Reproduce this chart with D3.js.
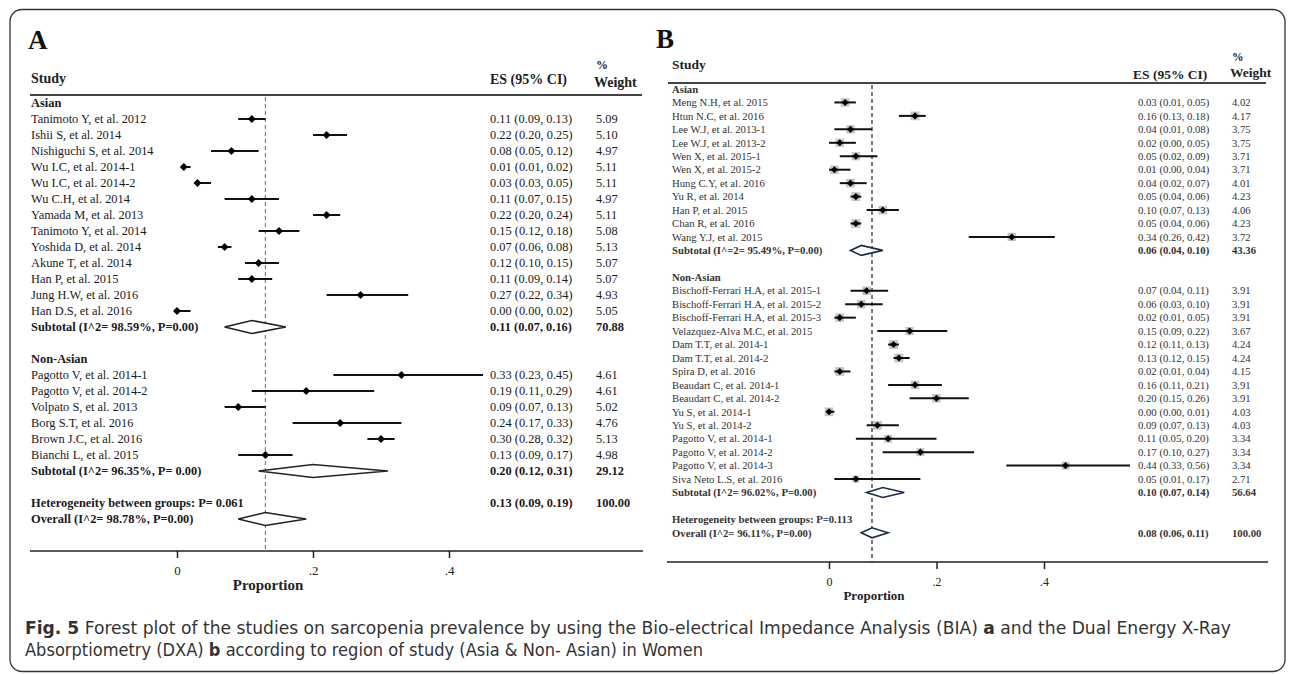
<!DOCTYPE html>
<html>
<head>
<meta charset="utf-8">
<script src="https://cdn.jsdelivr.net/npm/d3@7/dist/d3.min.js"></script>
<style>
body { margin: 0; background: #fff; }
text.serif { font-family: "Liberation Serif", "Times New Roman", serif; }
</style>
</head>
<body>
<script>
// ---- panel A (BIA) ----
var asianA = ["Tanimoto Y, et al. 2012", "Ishii S, et al. 2014", "Nishiguchi S, et al. 2014", "Wu I.C, et al. 2014-1",
  "Wu I.C, et al. 2014-2", "Wu C.H, et al. 2014", "Yamada M, et al. 2013", "Tanimoto Y, et al. 2014",
  "Yoshida D, et al. 2014", "Akune T, et al. 2014", "Han P, et al. 2015", "Jung H.W, et al. 2016", "Han D.S, et al. 2016"]
var asianA_es = [0.11, 0.22, 0.08, 0.01, 0.03, 0.11, 0.22, 0.15, 0.07, 0.12, 0.11, 0.27, 0.00]
var asianA_lo = [0.09, 0.20, 0.05, 0.01, 0.03, 0.07, 0.20, 0.12, 0.06, 0.10, 0.09, 0.22, 0.00]
var asianA_hi = [0.13, 0.25, 0.12, 0.02, 0.05, 0.15, 0.24, 0.18, 0.08, 0.15, 0.14, 0.34, 0.02]
var asianA_wt = [5.09, 5.10, 4.97, 5.11, 5.11, 4.97, 5.11, 5.08, 5.13, 5.07, 5.07, 4.93, 5.05]

var nonAsianA = ["Pagotto V, et al. 2014-1", "Pagotto V, et al. 2014-2", "Volpato S, et al. 2013",
  "Borg S.T, et al. 2016", "Brown J.C, et al. 2016", "Bianchi L, et al. 2015"]
var nonAsianA_es = [0.33, 0.19, 0.09, 0.24, 0.30, 0.13]
var nonAsianA_lo = [0.23, 0.11, 0.07, 0.17, 0.28, 0.09]
var nonAsianA_hi = [0.45, 0.29, 0.13, 0.33, 0.32, 0.17]
var nonAsianA_wt = [4.61, 4.61, 5.02, 4.76, 5.13, 4.98]

var subLabelsA = ["Subtotal (I^2= 98.59%, P=0.00)", "Subtotal (I^2= 96.35%, P= 0.00)"]
var subA = [[0.11, 0.07, 0.16, 70.88], [0.20, 0.12, 0.31, 29.12]]
var hetA = "Heterogeneity between groups: P= 0.061"
var overallLabelA = "Overall (I^2= 98.78%, P=0.00)"
var overallA = [0.13, 0.09, 0.19, 100.00]

// ---- panel B (DXA) ----
var asianB = ["Meng N.H, et al. 2015", "Htun N.C, et al. 2016", "Lee W.J, et al. 2013-1", "Lee W.J, et al. 2013-2",
  "Wen X, et al. 2015-1", "Wen X, et al. 2015-2", "Hung C.Y, et al. 2016", "Yu R, et al. 2014",
  "Han P, et al. 2015", "Chan R, et al. 2016", "Wang Y.J, et al. 2015"]
var asianB_es = [0.03, 0.16, 0.04, 0.02, 0.05, 0.01, 0.04, 0.05, 0.10, 0.05, 0.34]
var asianB_lo = [0.01, 0.13, 0.01, 0.00, 0.02, 0.00, 0.02, 0.04, 0.07, 0.04, 0.26]
var asianB_hi = [0.05, 0.18, 0.08, 0.05, 0.09, 0.04, 0.07, 0.06, 0.13, 0.06, 0.42]
var asianB_wt = [4.02, 4.17, 3.75, 3.75, 3.71, 3.71, 4.01, 4.23, 4.06, 4.23, 3.72]

var nonAsianB = ["Bischoff-Ferrari H.A, et al. 2015-1", "Bischoff-Ferrari H.A, et al. 2015-2", "Bischoff-Ferrari H.A, et al. 2015-3",
  "Velazquez-Alva M.C, et al. 2015", "Dam T.T, et al. 2014-1", "Dam T.T, et al. 2014-2", "Spira D, et al. 2016",
  "Beaudart C, et al. 2014-1", "Beaudart C, et al. 2014-2", "Yu S, et al. 2014-1", "Yu S, et al. 2014-2",
  "Pagotto V, et al. 2014-1", "Pagotto V, et al. 2014-2", "Pagotto V, et al. 2014-3", "Siva Neto L.S, et al. 2016"]
var nonAsianB_es = [0.07, 0.06, 0.02, 0.15, 0.12, 0.13, 0.02, 0.16, 0.20, 0.00, 0.09, 0.11, 0.17, 0.44, 0.05]
var nonAsianB_lo = [0.04, 0.03, 0.01, 0.09, 0.11, 0.12, 0.01, 0.11, 0.15, 0.00, 0.07, 0.05, 0.10, 0.33, 0.01]
var nonAsianB_hi = [0.11, 0.10, 0.05, 0.22, 0.13, 0.15, 0.04, 0.21, 0.26, 0.01, 0.13, 0.20, 0.27, 0.56, 0.17]
var nonAsianB_wt = [3.91, 3.91, 3.91, 3.67, 4.24, 4.24, 4.15, 3.91, 3.91, 4.03, 4.03, 3.34, 3.34, 3.34, 2.71]

var subLabelsB = ["Subtotal (I^=2= 95.49%, P=0.00)", "Subtotal (I^2= 96.02%, P=0.00)"]
var subB = [[0.06, 0.04, 0.10, 43.36], [0.10, 0.07, 0.14, 56.64]]
var hetB = "Heterogeneity  between groups: P=0.113"
var overallLabelB = "Overall (I^2= 96.11%, P=0.00)"
var overallB = [0.08, 0.06, 0.11, 100.00]

var groupNames = ["Asian", "Non-Asian"]
var tickValues = [0, 0.2, 0.4]
var tickLabels = ["0", ".2", ".4"]

var W = 1292, H = 674
var svg = d3.select("body").append("svg").attr("width", W).attr("height", H)

svg.append("rect").attr("x", 10).attr("y", 9.5).attr("width", 1275).attr("height", 662)
  .attr("rx", 12).attr("fill", "none").attr("stroke", "#333").attr("stroke-width", 1.3)

var f2 = d3.format(".2f")
function esText(d) { return f2(d[0]) + " (" + f2(d[1]) + ", " + f2(d[2]) + ")" }

function buildRows(groups) {
  var rows = []
  groups.forEach(function(gr, gi) {
    rows.push({type: "group", label: groupNames[gi]})
    gr.names.forEach(function(n, i) {
      rows.push({type: "study", label: n, v: [gr.es[i], gr.lo[i], gr.hi[i], gr.wt[i]]})
    })
    rows.push({type: "sub", label: gr.subLabel, v: gr.sub})
    rows.push({type: "blank"})
  })
  return rows
}

function drawPanel(p) {
  var g = svg.append("g").attr("fill", p.color)
  var x = d3.scaleLinear().domain([0, 0.4]).range(p.xRange)
  var rows = buildRows(p.groups)
  rows.push({type: "het", label: p.het})
  rows.push({type: "overall", label: p.overallLabel, v: p.overall})
  var y = function(i) { return p.y0 + i * p.step }

  g.append("text").attr("class", "serif").attr("x", p.letterX).attr("y", p.letterY).attr("font-size", 27)
    .attr("font-weight", "bold").attr("fill", "#111").text(p.letter)

  var hd = g.append("g").attr("font-weight", "bold").attr("font-size", p.headSize).attr("fill", "#222")
  hd.append("text").attr("class", "serif").attr("x", p.nameX).attr("y", p.studyY).text("Study")
  hd.append("text").attr("class", "serif").attr("x", p.esHeadX).attr("y", p.esHeadY).text("ES (95% CI)")
  hd.append("text").attr("class", "serif").attr("x", p.wtX).attr("y", p.pctY).attr("font-size", p.headSize - 2).text("%")
  hd.append("text").attr("class", "serif").attr("x", p.wtX - 2).attr("y", p.weightY).text("Weight")
  g.append("line").attr("x1", p.lineX[0]).attr("x2", p.lineX[1]).attr("y1", p.headLineY).attr("y2", p.headLineY)
    .attr("stroke", "#444").attr("stroke-width", 2)

  // reference line at overall estimate
  g.append("line").attr("x1", x(p.overall[0])).attr("x2", x(p.overall[0]))
    .attr("y1", p.headLineY + 2).attr("y2", p.axisY)
    .attr("stroke", p.dashColor).attr("stroke-width", 1.2).attr("stroke-dasharray", "4,3")

  var off = p.fontSize * 0.35
  rows.forEach(function(r, i) {
    var yy = y(i)
    if (r.type == "blank") return
    var bold = r.type != "study"
    g.append("text").attr("class", "serif").attr("x", p.nameX).attr("y", yy + off).attr("font-size", p.fontSize)
      .attr("font-weight", bold ? "bold" : "normal").text(r.label)
    if (r.type == "group" || r.type == "het") return

    var vy = (r.type == "overall" && p.overallTextOnHet) ? y(i - 1) : yy
    if (r.v) {
      g.append("text").attr("class", "serif").attr("x", p.esX).attr("y", vy + off).attr("font-size", p.fontSize)
        .attr("font-weight", bold ? "bold" : "normal").text(esText(r.v))
      g.append("text").attr("class", "serif").attr("x", p.wtX).attr("y", vy + off).attr("font-size", p.fontSize)
        .attr("font-weight", bold ? "bold" : "normal").text(f2(r.v[3]))
    }
    if (r.type == "study") {
      if (p.boxes) {
        var s = p.boxScale * Math.sqrt(r.v[3])
        g.append("rect").attr("x", x(r.v[0]) - s / 2).attr("y", yy - s / 2).attr("width", s).attr("height", s)
          .attr("fill", "#c4c4c4")
      }
      g.append("line").attr("x1", x(r.v[1])).attr("x2", x(r.v[2])).attr("y1", yy).attr("y2", yy)
        .attr("stroke", "#111").attr("stroke-width", 2)
      g.append("path").attr("transform", "translate(" + x(r.v[0]) + "," + yy + ")")
        .attr("d", d3.symbol().type(d3.symbolDiamond2).size(p.pointSize)()).attr("fill", "#000")
    } else {
      var h = p.diamondH / 2
      var pts = [[x(r.v[1]), yy], [x(r.v[0]), yy - h], [x(r.v[2]), yy], [x(r.v[0]), yy + h]]
      g.append("path").attr("d", d3.line()(pts) + "Z").attr("fill", "#fff")
        .attr("stroke", p.diamondColor).attr("stroke-width", 1.6)
    }
  })

  // x axis
  g.append("line").attr("x1", p.axisLineX[0]).attr("x2", p.axisLineX[1]).attr("y1", p.axisY).attr("y2", p.axisY)
    .attr("stroke", "#222").attr("stroke-width", 1.5)
  var ax = d3.axisBottom(x).tickValues(tickValues).tickSize(7).tickPadding(8)
    .tickFormat(function(d, i) { return tickLabels[i] })
  var axg = g.append("g").attr("transform", "translate(0," + p.axisY + ")").call(ax)
  axg.select(".domain").remove()
  axg.selectAll(".tick line").attr("stroke", "#222").attr("stroke-width", 1.5)
  axg.selectAll(".tick text").attr("class", "serif").attr("font-size", p.tickSize).attr("fill", "#222")
  g.append("text").attr("class", "serif").attr("x", p.propX).attr("y", p.propY).attr("text-anchor", "middle")
    .attr("font-size", p.propSize).attr("font-weight", "bold").attr("fill", "#222").text("Proportion")
}

drawPanel({
  letter: "A", letterX: 28, letterY: 49, color: "#1a1a1a",
  groups: [
    {names: asianA, es: asianA_es, lo: asianA_lo, hi: asianA_hi, wt: asianA_wt, subLabel: subLabelsA[0], sub: subA[0]},
    {names: nonAsianA, es: nonAsianA_es, lo: nonAsianA_lo, hi: nonAsianA_hi, wt: nonAsianA_wt, subLabel: subLabelsA[1], sub: subA[1]}
  ],
  het: hetA, overallLabel: overallLabelA, overall: overallA, overallTextOnHet: true,
  xRange: [177, 449], y0: 103, step: 16,
  nameX: 31, esX: 490, wtX: 596, fontSize: 12.4, headSize: 14,
  studyY: 83, esHeadY: 84, esHeadX: 490, pctY: 69, weightY: 87,
  headLineY: 95, lineX: [30, 642],
  axisY: 551, axisLineX: [30, 643], tickSize: 13, propX: 268, propY: 590, propSize: 15,
  dashColor: "#808080", diamondColor: "#222", diamondH: 13, pointSize: 40, boxes: false
})

drawPanel({
  letter: "B", letterX: 656, letterY: 48, color: "#333",
  groups: [
    {names: asianB, es: asianB_es, lo: asianB_lo, hi: asianB_hi, wt: asianB_wt, subLabel: subLabelsB[0], sub: subB[0]},
    {names: nonAsianB, es: nonAsianB_es, lo: nonAsianB_lo, hi: nonAsianB_hi, wt: nonAsianB_wt, subLabel: subLabelsB[1], sub: subB[1]}
  ],
  het: hetB, overallLabel: overallLabelB, overall: overallB, overallTextOnHet: false,
  xRange: [829, 1044], y0: 89, step: 13.45,
  nameX: 672, esX: 1138, wtX: 1232, fontSize: 10.7, headSize: 13.5,
  studyY: 69, esHeadY: 79, esHeadX: 1133, pctY: 61, weightY: 77,
  headLineY: 83, lineX: [668, 1266],
  axisY: 562, axisLineX: [667, 1268], tickSize: 12, propX: 874, propY: 600, propSize: 13,
  dashColor: "#222", diamondColor: "#1c2b4a", diamondH: 10, pointSize: 32, boxes: true, boxScale: 4.3
})

// caption
var capFont = "'Liberation Sans Narrow', 'DejaVu Sans Condensed', 'Open Sans', sans-serif"
var cap = svg.append("g").attr("fill", "#333").attr("font-size", 18)
var c1 = cap.append("text").style("font-family", capFont).attr("x", 25).attr("y", 634)
  .attr("textLength", 1206).attr("lengthAdjust", "spacingAndGlyphs")
c1.append("tspan").attr("font-weight", "bold").text("Fig. 5")
c1.append("tspan").text(" Forest plot of the studies on sarcopenia prevalence by using the Bio-electrical Impedance Analysis (BIA) ")
c1.append("tspan").attr("font-weight", "bold").text("a")
c1.append("tspan").text(" and the Dual Energy X-Ray")
var c2 = cap.append("text").style("font-family", capFont).attr("x", 25).attr("y", 656)
  .attr("textLength", 678).attr("lengthAdjust", "spacingAndGlyphs")
c2.append("tspan").text("Absorptiometry (DXA) ")
c2.append("tspan").attr("font-weight", "bold").text("b")
c2.append("tspan").text(" according to region of study (Asia & Non- Asian) in Women")
</script>
</body>
</html>
